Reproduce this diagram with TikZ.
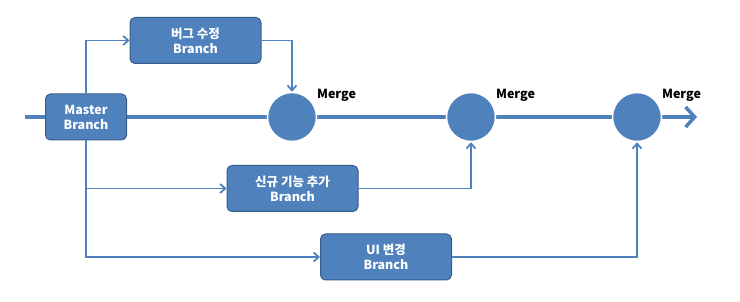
\documentclass[tikz,border=0pt]{standalone}
\usepackage{fontspec}
\setmainfont{Noto Sans CJK KR}
\usepackage{tikz}
\usetikzlibrary{arrows.meta,positioning}
\usepackage{xcolor}
\definecolor{boxblue}{RGB}{79,129,189}
\definecolor{edgeblue}{RGB}{56,93,138}

\begin{document}
\begin{tikzpicture}[x=1pt,y=-1pt,
  every node/.style={font=\fontsize{12.5}{15}\selectfont\bfseries},
  branchbox/.style={rectangle, rounded corners=5pt, fill=boxblue, draw=edgeblue, line width=1pt,
    text=white, align=center, minimum width=131pt, minimum height=46pt, inner sep=0pt},
  mergept/.style={circle, fill=boxblue, draw=white, line width=1.5pt, minimum size=49pt, inner sep=0pt},
  mergelbl/.style={text=black, inner sep=1pt, xshift=6pt, yshift=-4pt},
  flow/.style={draw=boxblue, line width=1.8pt, -{Straight Barb[length=5pt,width=9pt]}},
  mainline/.style={draw=boxblue, line width=4.5pt, -{Straight Barb[length=9pt,width=20pt,line width=3.5pt]}}]
\useasboundingbox (0,0) rectangle (740,302);
% trunk
\coordinate (start) at (25,117);
\coordinate (end) at (697,117);
\draw[mainline] (start) -- (end);
\node[branchbox, minimum width=81pt] (master) at (86,117) {Master\\Branch};
\node[branchbox] (bug) at (195.5,40.5) {버그 수정\\Branch};
\node[branchbox] (feat) at (292.5,188.5) {신규 기능 추가\\Branch};
\node[branchbox] (ui) at (386,257) {UI 변경\\Branch};
% merge points
\node[mergept, label={[mergelbl]north east:Merge}] (m1) at (292,117) {};
\node[mergept, label={[mergelbl]north east:Merge}] (m2) at (471,117) {};
\node[mergept, label={[mergelbl]north east:Merge}] (m3) at (637,117) {};
\draw[flow] (master.north) |- (bug.west);
\draw[flow] (bug.east) -| (m1.north);
\draw[flow] (master.south) |- (feat.west);
\draw[flow] (feat.east) -| (m2.south);
\draw[flow] (master.south) |- (ui.west);
\draw[flow] (ui.east) -| (m3.south);
\end{tikzpicture}
\end{document}
